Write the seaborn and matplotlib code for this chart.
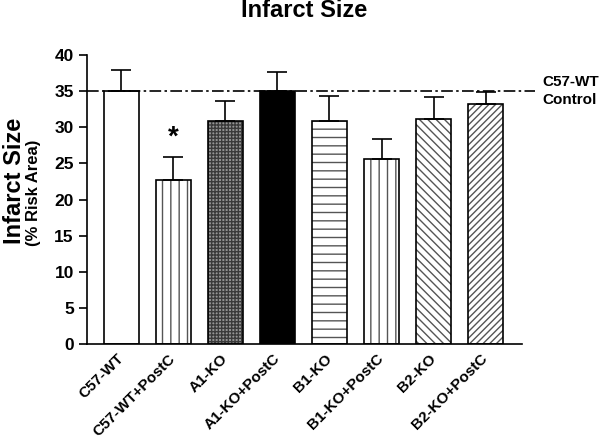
import matplotlib
matplotlib.use("Agg")
import matplotlib.pyplot as plt
import seaborn as sns
import pandas as pd

# ── DATA ──────────────────────────────────────────────────────────────────
groups = ["C57-WT", "C57-WT+PostC", "A1-KO", "A1-KO+PostC",
          "B1-KO", "B1-KO+PostC", "B2-KO", "B2-KO+PostC"]
infarct = [35.0, 22.7, 30.9, 35.0, 30.9, 25.6, 31.2, 33.2]
sem = [2.9, 3.2, 2.8, 2.6, 3.5, 2.8, 3.0, 1.7]
control_level = 35.0

faces = ["white", "white", "#959595", "black", "white", "white", "white", "white"]
hatches = ["", "||", "+++++", "", "--", "||", "\\\\\\\\", "/////"]

# ── STYLE ─────────────────────────────────────────────────────────────────
sns.set_theme(style="ticks")
plt.rcParams["font.family"] = ["Liberation Sans", "DejaVu Sans"]
plt.rcParams["font.weight"] = "bold"
plt.rcParams["hatch.linewidth"] = 1.0
for key in ("text.color", "axes.labelcolor", "xtick.color", "ytick.color",
            "axes.edgecolor"):
    plt.rcParams[key] = "black"

df = pd.DataFrame({"group": groups, "infarct": infarct})

fig = plt.figure(figsize=(6.0, 4.41), dpi=100)
ax = fig.add_axes([0.145, 0.22, 0.725, 0.655])

# hatched fills (gray hatch lines), then black outlines on top
sns.barplot(data=df, x="group", y="infarct", order=groups, width=0.67,
            errorbar=None, ax=ax, color="white", linewidth=0)
for patch, fc, h in zip(ax.patches, faces, hatches):
    patch.set_facecolor(fc)
    patch.set_hatch(h)
    patch.set_edgecolor("#555555" if h != "+++++" else "#3a3a3a")
    patch.set_linewidth(0)

sns.barplot(data=df, x="group", y="infarct", order=groups, width=0.67,
            errorbar=None, ax=ax, fill=False, edgecolor="black", linewidth=1.2)

# upper-only error bars
ax.errorbar(range(len(groups)), infarct, yerr=[[0] * len(sem), sem],
            fmt="none", ecolor="black", elinewidth=1.2, capsize=7, capthick=1.2)

# control reference line
ax.plot([-0.66, 7.95], [control_level, control_level], color="black",
        lw=1.2, ls=(0, (7, 2, 1.5, 2)), clip_on=False, zorder=3)
ax.text(8.09, control_level, "C57-WT\nControl", ha="left", va="center",
        fontsize=11, fontweight="bold", linespacing=1.4)

# significance marker
ax.text(1, 28.6, "*", ha="center", va="center", fontsize=20, fontweight="bold")

# ── AXES ──────────────────────────────────────────────────────────────────
ax.set_xlim(-0.66, 7.70)
ax.set_ylim(0, 40)
ax.set_yticks(range(0, 41, 5))
ax.set_xlabel("")
ax.set_ylabel("")
sns.despine(ax=ax)
for side in ("left", "bottom"):
    ax.spines[side].set_linewidth(1.2)
    ax.spines[side].set_color("black")
ax.tick_params(axis="y", length=6, width=1.2, labelsize=12.5, color="black")
ax.tick_params(axis="x", length=0, labelsize=11, pad=9)
ax.set_xticks(range(len(groups)))
ax.set_xticklabels(groups, rotation=45, ha="right", va="center",
                   rotation_mode="anchor", fontweight="bold")
for lab in ax.get_yticklabels():
    lab.set_fontweight("bold")

fig.text(0.507, 0.977, "Infarct Size", ha="center", va="center",
         fontsize=17, fontweight="bold")
fig.text(0.024, 0.59, "Infarct Size", rotation=90, ha="center", va="center",
         fontsize=17, fontweight="bold")
fig.text(0.056, 0.562, "(% Risk Area)", rotation=90, ha="center", va="center",
         fontsize=12, fontweight="bold")

fig.savefig("out.png", dpi=100)
